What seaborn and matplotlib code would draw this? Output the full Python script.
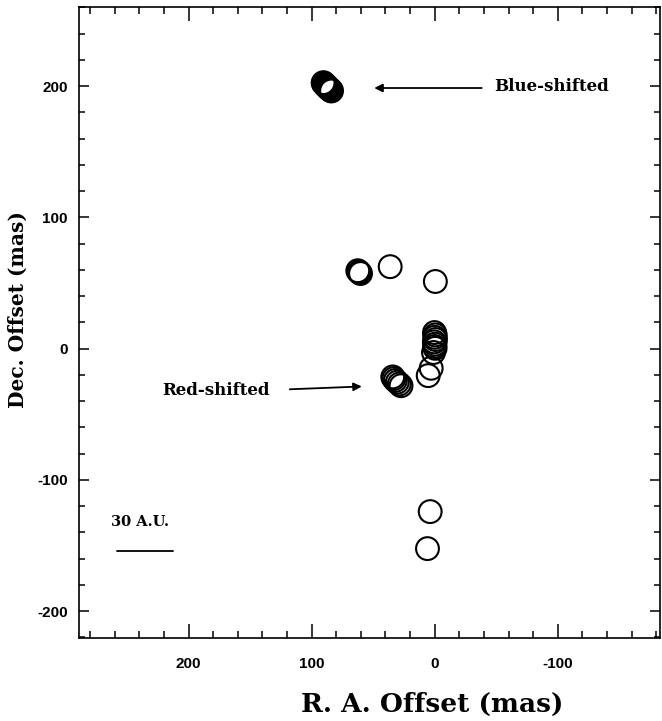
import numpy as np
import pandas as pd
import matplotlib
matplotlib.use("Agg")
import matplotlib.pyplot as plt
import seaborn as sns
from matplotlib.ticker import MultipleLocator

# ---- data (mas) ----
blue_ra = [90.5, 90.0, 89.4, 88.9, 88.3, 87.8, 87.1, 86.6, 86.0, 85.3, 84.7, 84.0]
blue_dec = [202.4, 202.0, 201.3, 200.9, 200.2, 199.8, 199.1, 198.7, 198.0, 197.6, 197.0, 196.4]

red_ra = [62.5, 61.8, 61.0, 60.3, 36.2, -0.5,
          0.2, -0.4, 0.0, -0.6, 0.3, -0.2, 0.1, -0.3, 1.0,
          2.9, 5.3,
          34.1, 33.2, 32.0, 30.4, 28.8, 27.4,
          3.7, 5.9]
red_dec = [59.3, 58.6, 57.9, 57.2, 62.4, 51.1,
           12.2, 10.4, 8.6, 6.9, 5.1, 3.3, 1.6, 0.2, -3.0,
           -15.0, -20.6,
           -21.6, -22.9, -24.3, -25.6, -27.0, -28.3,
           -124.2, -152.4]

xticks = [200, 100, 0, -100]
yticks = [200, 100, 0, -100, -200]

df_blue = pd.DataFrame({"ra": blue_ra, "dec": blue_dec})
df_red = pd.DataFrame({"ra": red_ra, "dec": red_dec})

sns.set_style("ticks")
plt.rcParams["axes.unicode_minus"] = False
plt.rcParams["text.color"] = "black"
plt.rcParams["axes.labelcolor"] = "black"
plt.rcParams["xtick.color"] = "black"
plt.rcParams["ytick.color"] = "black"
plt.rcParams["axes.edgecolor"] = "black"

fig = plt.figure(figsize=(6.62, 7.21), dpi=100)
ax = fig.add_axes([0.1193, 0.1151, 0.8777, 0.8748])

sns.scatterplot(data=df_red, x="ra", y="dec", ax=ax, s=270, marker="o",
                facecolor="none", edgecolor="black", linewidth=1.5, legend=False)
sns.scatterplot(data=df_blue, x="ra", y="dec", ax=ax, s=270, marker="o",
                facecolor="none", edgecolor="black", linewidth=1.8, legend=False)

ax.set_xlim(289, -183)
ax.set_ylim(-220.5, 260)

ax.set_xticks(xticks)
ax.set_yticks(yticks)
ax.xaxis.set_minor_locator(MultipleLocator(20))
ax.yaxis.set_minor_locator(MultipleLocator(20))
ax.tick_params(which="both", direction="in", top=True, right=True, width=1.1, color="black")
ax.tick_params(axis="x", which="major", length=10, pad=14)
ax.tick_params(axis="x", which="minor", length=5)
ax.tick_params(axis="y", which="major", length=7.5, pad=8)
ax.tick_params(axis="y", which="minor", length=4.5)
ax.set_xticklabels([str(v) for v in xticks])
ax.set_yticklabels([str(v) for v in yticks])
for lab in ax.get_xticklabels() + ax.get_yticklabels():
    lab.set_fontfamily("Liberation Sans")
    lab.set_fontweight("bold")
    lab.set_fontsize(11)
    lab.set_color("black")
for sp in ax.spines.values():
    sp.set_linewidth(1.2)
    sp.set_color("black")

ax.set_xlabel("R. A. Offset (mas)", fontfamily="DejaVu Serif", fontsize=19,
              fontweight="bold", color="black", va="top")
ax.set_ylabel("Dec. Offset (mas)", fontfamily="DejaVu Serif", fontsize=14.5,
              fontweight="bold", color="black")
ax.xaxis.set_label_coords(0.608, -0.085)
ax.yaxis.set_label_coords(-0.088, 0.52)

# annotations
ax.annotate("", xy=(51.4, 198.5), xytext=(-40.4, 198.5),
            arrowprops=dict(arrowstyle="-|>", color="black", lw=1.3, mutation_scale=12))
ax.text(-48.5, 200, "Blue-shifted", fontfamily="DejaVu Serif", fontweight="bold",
        fontsize=12, ha="left", va="center", color="black")
ax.annotate("", xy=(57.0, -28.8), xytext=(120.0, -31.1),
            arrowprops=dict(arrowstyle="-|>", color="black", lw=1.3, mutation_scale=12))
ax.text(134.2, -32, "Red-shifted", fontfamily="DejaVu Serif", fontweight="bold",
        fontsize=12, ha="right", va="center", color="black")

# scale bar
ax.plot([258.4, 213.0], [-154, -154], color="black", lw=1.3)
ax.text(239.3, -132, "30 A.U.", fontfamily="DejaVu Serif", fontweight="bold",
        fontsize=10.5, ha="center", va="center", color="black")

fig.savefig("out.png", dpi=100)
